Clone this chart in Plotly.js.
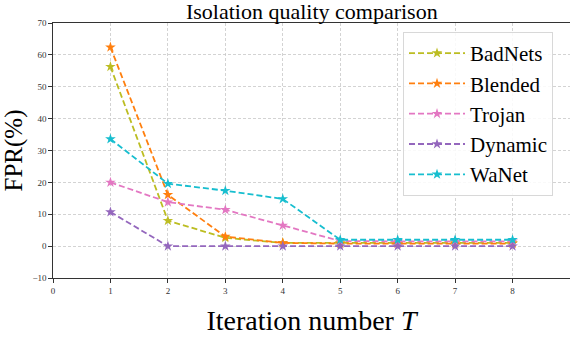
<!DOCTYPE html>
<html>
<head>
<meta charset="utf-8">
<script src="https://cdn.plot.ly/plotly-3.0.1.min.js"></script>
<style>html,body{margin:0;padding:0;background:#fff;}#chart{width:570px;height:339px;}</style>
</head>
<body>
<div id="chart"></div>
<script>
var iterations = [1, 2, 3, 4, 5, 6, 7, 8];
var seriesNames = ["BadNets", "Blended", "Trojan", "Dynamic", "WaNet"];
var badnets = [56.3, 8.0, 2.6, 1.0, 1.0, 1.0, 1.0, 1.0];
var blended = [62.4, 16.1, 3.0, 1.0, 0.8, 0.8, 0.8, 0.8];
var trojan  = [20.0, 13.8, 11.4, 6.5, 1.6, 1.5, 1.5, 1.5];
var dynamic = [10.7, 0.0, 0.0, 0.0, 0.0, 0.0, 0.0, 0.0];
var wanet   = [33.6, 19.6, 17.4, 14.8, 2.0, 2.0, 2.0, 2.0];
var xTicks = [0, 1, 2, 3, 4, 5, 6, 7, 8, 9];
var yTicks = [-10, 0, 10, 20, 30, 40, 50, 60, 70];

var colors = ["#bcbd22", "#ff7f0e", "#e377c2", "#9467bd", "#17becf"];
var values = [badnets, blended, trojan, dynamic, wanet];

var traces = values.map(function (v, i) {
  return {
    x: iterations, y: v, name: seriesNames[i], type: "scatter", mode: "lines+markers",
    line: {color: colors[i], width: 1.8, dash: "6px,3px"},
    marker: {symbol: "star", size: 8, color: colors[i]}
  };
});

var serif = "'Liberation Serif', 'Times New Roman', serif";
var layout = {
  width: 570, height: 339,
  margin: {l: 53, r: 0, t: 23, b: 61},
  paper_bgcolor: "#fff", plot_bgcolor: "#fff",
  showlegend: true,
  font: {family: serif},
  title: {text: "Isolation quality comparison", font: {family: serif, size: 22, color: "#000"}, x: 0.547, xanchor: "center", y: 0.968, yanchor: "middle"},
  xaxis: {
    range: [0, 9], tickvals: xTicks, ticktext: xTicks.map(String),
    showgrid: true, gridcolor: "#c8c8c8", griddash: "3px,2px", gridwidth: 0.8,
    zeroline: false, showline: true, linecolor: "#333", linewidth: 1.2, mirror: true,
    ticks: "outside", ticklen: 3.5, tickcolor: "#333",
    tickfont: {family: serif, size: 9, color: "#333"},
    title: {text: "Iteration number <i>T</i>", font: {family: serif, size: 28, color: "#000"}, standoff: 15}
  },
  yaxis: {
    range: [-10, 70], tickvals: yTicks, ticktext: yTicks.map(function(t){return t < 0 ? "\u2212" + Math.abs(t) : String(t);}),
    showgrid: true, gridcolor: "#c8c8c8", griddash: "3px,2px", gridwidth: 0.8,
    zeroline: false, showline: true, linecolor: "#333", linewidth: 1.2, mirror: true,
    ticks: "outside", ticklen: 3.5, tickcolor: "#333",
    tickfont: {family: serif, size: 9, color: "#333"},
    title: {text: "FPR(%)", font: {family: serif, size: 25, color: "#000"}, standoff: 8}
  },
  legend: {
    x: 0.677, y: 0.965, xanchor: "left", yanchor: "top",
    bgcolor: "rgba(255,255,255,0.85)", bordercolor: "#d8d8d8", borderwidth: 1,
    font: {family: serif, size: 21, color: "#000"},
    itemwidth: 56, tracegroupgap: 0
  }
};

Plotly.newPlot("chart", traces, layout, {displayModeBar: false, staticPlot: true});
</script>
</body>
</html>
